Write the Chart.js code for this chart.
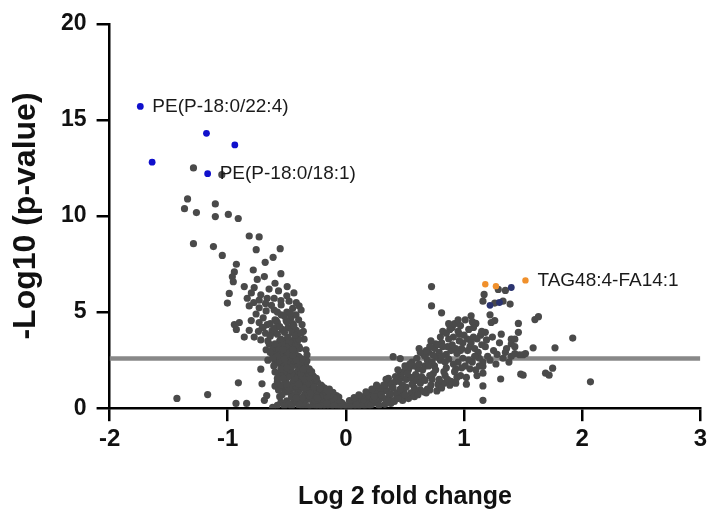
<!DOCTYPE html>
<html>
<head>
<meta charset="utf-8">
<script src="https://cdn.jsdelivr.net/npm/chart.js@4.4.1/dist/chart.umd.min.js"></script>
<style>
  html, body { margin: 0; padding: 0; background: #ffffff; }
  #wrap { width: 711px; height: 518px; }
</style>
</head>
<body>
<div id="wrap"><canvas id="c" width="711" height="518"></canvas></div>
<script>
// ---- Data (log2 fold change, -log10 p-value) ----
const highlightBlue = [[-1.74,15.7],[-1.18,14.3],[-0.94,13.7],[-1.64,12.8],[-1.17,12.2]];
const highlightOrange = [[1.18,6.45],[1.27,6.35],[1.52,6.65]];
const mixedNavy = [[1.40,6.28],[1.22,5.35],[1.30,5.5]];

const leftOutliers = [[-1.29,12.5],[-1.05,12.15],[-1.34,10.89],[-1.366,10.38],[-1.265,10.18],[-1.105,10.63],[-1.105,9.97],[-0.995,10.08],[-0.911,9.87],[-0.818,8.96],[-0.734,8.91],[-1.29,8.56],[-1.121,8.41],[-1.046,7.95],[-0.759,8.25],[-0.556,8.30],[-0.616,7.85],[-0.683,7.59],[-0.927,7.49],[-0.784,7.19],[-0.944,7.09],[-0.961,6.84],[-0.953,6.58],[-0.86,6.33],[-0.776,6.28],[-0.497,6.33],[-0.987,5.97],[-1.003,5.47],[-0.835,5.72],[-0.734,5.62],[-0.666,5.72],[-0.607,5.72],[-0.818,5.32],[-0.734,5.22],[-0.675,5.06],[-0.607,5.11],[-0.548,5.37],[-0.481,5.57],[-0.396,5.32],[-0.379,5.11],[-0.944,4.35],[-0.902,4.46],[-0.927,4.10],[-0.86,3.70],[-0.801,4.56],[-0.818,4.05],[-0.776,3.70],[-0.734,4.46],[-0.708,4.20],[-0.666,4.35],[-0.624,4.05],[-0.590,4.56],[-0.548,4.86],[-0.506,4.56],[-0.464,4.71],[-0.422,4.86],[-0.371,4.35],[-0.455,3.95],[-0.354,3.59],[-0.649,3.34],[-0.675,3.04],[-0.624,2.84],[-0.565,3.09],[-0.506,3.34],[-0.455,3.34],[-0.396,3.19],[-0.337,3.04],[-0.329,2.78],[-1.43,0.51],[-1.17,0.71],[-0.91,1.32],[-0.93,0.25],[-0.84,0.25],[-0.71,1.27],[-0.67,0.66],[-0.69,0.41],[-0.72,2.03]];

const leftCore = [[-0.02,0.05],[-0.05,0.12],[-0.08,0.2],[-0.11,0.3],[-0.14,0.38],[-0.04,0.3],[-0.07,0.42],[-0.17,0.1],[-0.21,0.22],[-0.25,0.15],[-0.28,0.35],[-0.32,0.08],[-0.36,0.25],[-0.4,0.18],[-0.44,0.4],[-0.13,0.05],[-0.19,0.45],[-0.23,0.05],[-0.3,0.48],[-0.1,0.12],[-0.48,0.22],[-0.52,0.12],[-0.38,0.44],[-0.26,0.4],[-0.16,0.25],
[-0.1,0.55],[-0.13,0.7],[-0.16,0.62],[-0.19,0.85],[-0.22,0.6],[-0.25,0.75],[-0.28,0.95],[-0.31,0.65],[-0.34,0.82],[-0.37,0.55],[-0.4,0.9],[-0.43,0.7],[-0.46,0.6],[-0.5,0.85],[-0.54,0.7],[-0.2,0.98],[-0.24,0.52],[-0.33,0.98],[-0.42,0.52],[-0.15,0.9],[-0.3,0.78],[-0.57,0.95],
[-0.18,1.05],[-0.21,1.2],[-0.24,1.35],[-0.27,1.1],[-0.3,1.45],[-0.33,1.25],[-0.36,1.05],[-0.39,1.4],[-0.42,1.15],[-0.45,1.32],[-0.48,1.05],[-0.51,1.45],[-0.55,1.2],[-0.58,1.38],[-0.26,1.48],[-0.35,1.5],[-0.44,1.48],[-0.22,1.02],[-0.4,1.25],[-0.5,1.25],
[-0.25,1.55],[-0.28,1.7],[-0.31,1.6],[-0.34,1.85],[-0.37,1.65],[-0.4,1.95],[-0.43,1.58],[-0.46,1.8],[-0.49,1.62],[-0.52,1.9],[-0.55,1.7],[-0.58,1.55],[-0.6,1.88],[-0.32,1.98],[-0.38,1.8],[-0.47,2.0],[-0.29,1.9],[-0.53,1.55],
[-0.31,2.05],[-0.34,2.2],[-0.37,2.4],[-0.4,2.1],[-0.43,2.3],[-0.46,2.15],[-0.49,2.45],[-0.52,2.25],[-0.55,2.05],[-0.58,2.35],[-0.61,2.2],[-0.36,2.02],[-0.44,2.48],[-0.5,2.1],[-0.56,2.48],[-0.33,2.45],
[-0.37,2.55],[-0.4,2.7],[-0.43,2.9],[-0.46,2.6],[-0.49,2.8],[-0.52,2.55],[-0.55,2.95],[-0.58,2.7],[-0.62,2.6],[-0.64,2.9],[-0.42,2.52],[-0.5,2.98],[-0.45,2.75],
[-0.39,3.1],[-0.42,3.3],[-0.45,3.05],[-0.48,3.45],[-0.51,3.2],[-0.54,3.4],[-0.57,3.15],[-0.6,3.35],[-0.41,3.48],[-0.53,3.05],
[-0.4,3.6],[-0.43,3.8],[-0.46,4.1],[-0.49,3.7],[-0.52,3.95],[-0.55,3.6],[-0.58,3.85],[-0.6,4.15],[-0.64,3.75],[-0.68,3.9],[-0.38,3.9],[-0.72,3.55],
[-0.44,4.3],[-0.5,4.5],[-0.56,4.25],[-0.6,4.6],[-0.64,4.4],[-0.52,4.8],[-0.47,4.95],[-0.7,4.7],[-0.76,4.9]];

const leftCoreExtra = [[-0.01,0.15],[-0.03,0.25],[-0.06,0.05],[-0.09,0.35],[-0.12,0.18],[-0.15,0.48],[-0.18,0.3],[-0.2,0.08],[-0.23,0.38],[-0.27,0.22],[-0.29,0.05],[-0.34,0.4],[-0.37,0.12],[-0.42,0.28],[-0.46,0.1],[-0.5,0.38],[-0.55,0.3],[-0.58,0.15],[-0.62,0.05],[-0.06,0.58],
[-0.08,0.65],[-0.11,0.82],[-0.14,1.0],[-0.17,0.72],[-0.2,1.12],[-0.23,0.88],[-0.26,1.0],[-0.29,0.58],[-0.32,1.1],[-0.35,0.7],[-0.38,1.2],[-0.41,0.8],[-0.44,1.05],[-0.47,0.9],[-0.52,1.0],[-0.56,0.6],[-0.6,1.15],[-0.28,1.3],[-0.37,1.35],[-0.46,1.2],
[-0.27,1.62],[-0.3,1.78],[-0.33,1.68],[-0.36,1.92],[-0.39,1.55],[-0.42,1.85],[-0.45,1.68],[-0.48,1.9],[-0.51,1.72],[-0.54,1.98],[-0.57,1.8],[-0.35,2.3],[-0.38,2.15],[-0.41,2.4],[-0.45,2.25],[-0.48,2.05],[-0.51,2.35],[-0.54,2.15],[-0.57,2.55],[-0.6,2.4],[-0.39,2.62],[-0.47,2.7],[-0.53,2.82],[-0.6,2.95],[-0.66,2.5],
[-0.41,3.2],[-0.44,3.55],[-0.47,3.25],[-0.5,3.6],[-0.56,3.5],[-0.62,3.1],[-0.66,3.5],[-0.45,4.4],[-0.49,4.2],[-0.54,4.1],[-0.58,4.45],[-0.62,3.95],[-0.7,4.2],[-0.74,4.0],[-0.42,4.05],[-0.36,4.0],[-0.4,4.6],
[-0.42,5.5],[-0.45,5.2],[-0.5,5.0],[-0.55,5.6],[-0.58,5.0],[-0.63,5.35],[-0.68,5.45],[-0.72,5.9],[-0.78,5.5],[-0.8,6.0],[-0.65,6.2],[-0.57,6.1],[-0.5,5.85],[-0.44,6.0],[-0.75,6.7],[-0.69,6.85],[-0.55,7.0],[-0.6,6.5]];

const rightCore = [[0.02,0.08],[0.04,0.22],[0.06,0.12],[0.08,0.35],[0.1,0.05],[0.12,0.25],[0.14,0.5],[0.16,0.15],[0.18,0.4],[0.2,0.65],[0.03,0.4],[0.07,0.55],[0.11,0.7],[0.15,0.32],[0.19,0.2],[0.13,0.1],[0.17,0.85],[0.09,0.18],
[0.21,0.15],[0.23,0.45],[0.25,0.8],[0.27,0.3],[0.29,1.05],[0.31,0.55],[0.33,0.2],[0.35,0.9],[0.37,1.3],[0.39,0.4],[0.22,1.0],[0.26,1.2],[0.3,0.7],[0.34,1.5],[0.38,0.75],[0.24,0.6],[0.28,0.15],[0.36,0.35],[0.32,1.2],[0.4,1.05],
[0.41,0.35],[0.43,0.8],[0.45,1.4],[0.47,0.55],[0.49,1.9],[0.51,1.1],[0.53,0.5],[0.55,1.6],[0.57,2.2],[0.59,0.85],[0.42,1.65],[0.44,2.0],[0.48,1.2],[0.5,0.7],[0.52,1.8],[0.54,2.3],[0.56,1.25],[0.58,0.6],[0.46,1.0],[0.6,1.45],[0.5,2.2],[0.44,0.5],
[0.61,0.7],[0.63,1.3],[0.65,2.0],[0.67,2.7],[0.69,1.0],[0.71,1.7],[0.73,2.4],[0.75,3.1],[0.77,0.9],[0.79,1.5],[0.62,2.3],[0.64,1.65],[0.66,0.85],[0.68,3.0],[0.7,2.2],[0.72,1.2],[0.74,2.75],[0.76,2.0],[0.78,3.3],[0.8,2.5],[0.63,2.9],[0.71,3.2],[0.79,1.1],[0.67,1.45],
[0.81,1.05],[0.83,1.9],[0.85,2.8],[0.87,3.6],[0.89,1.4],[0.91,2.3],[0.93,3.1],[0.95,4.0],[0.97,1.7],[0.99,2.6],[0.82,3.2],[0.84,2.4],[0.86,1.5],[0.88,4.1],[0.9,3.3],[0.92,1.9],[0.94,2.85],[0.96,3.5],[0.98,2.1],[1.0,3.8],[0.85,3.9],[0.93,1.3],[0.81,2.7],[0.97,4.3],
[1.02,1.6],[1.04,2.5],[1.06,3.4],[1.08,4.2],[1.1,2.0],[1.12,2.9],[1.14,3.8],[1.16,2.4],[1.18,3.2],[1.2,2.7],[1.03,3.0],[1.07,4.5],[1.11,3.6],[1.15,4.0],[1.19,3.55],[1.05,2.05],[1.09,2.7],[1.13,2.2],[1.01,4.6],
[1.22,2.5],[1.25,3.0],[1.28,2.8],[1.3,3.4],[1.33,2.6],[1.36,3.1],[1.4,2.7],[1.43,3.2],[1.24,3.7],[1.27,2.3],[1.35,2.9],[1.38,2.4]];

const rightCoreExtra = [[0.01,0.02],[0.03,0.12],[0.05,0.3],[0.07,0.08],[0.09,0.45],[0.11,0.15],[0.13,0.38],[0.15,0.6],[0.17,0.28],[0.19,0.52],[0.21,0.75],[0.23,0.25],[0.25,0.4],[0.27,0.95],[0.29,0.6],[0.31,0.9],[0.33,1.1],[0.35,0.5],[0.37,0.7],[0.39,1.15],[0.41,1.35],[0.43,0.55],[0.45,0.75],[0.47,1.6],[0.49,0.9],[0.51,1.5],[0.53,2.0],[0.55,0.8],[0.57,1.35],[0.59,1.75],[0.61,2.05],[0.63,0.95],[0.65,1.55],[0.67,2.2],[0.69,2.5],[0.71,0.95],[0.73,1.5],[0.75,2.2],[0.77,2.65],[0.79,2.9],[0.81,3.4],[0.83,1.3],[0.85,2.1],[0.87,2.55],[0.89,3.0],[0.91,3.7],[0.93,2.05],[0.95,2.4],[0.97,3.0],[0.99,3.4],[1.01,2.2],[1.03,3.6],[1.05,3.2],[1.07,2.4],[1.09,3.1],[1.11,1.7],[1.13,2.6],[1.15,3.3],[0.36,1.55],[0.46,1.85],[0.56,2.4],[0.66,2.8],[0.76,3.35],[0.86,3.2],[0.96,3.85],[0.6,2.6],[0.7,2.9],[0.8,3.7],[0.9,4.2],[0.74,1.8],[0.84,1.7],[0.94,1.6],[1.02,1.25],[0.88,1.2],[0.78,1.25],[0.68,0.8],[0.58,1.05],[0.48,0.4],[0.38,0.25],[0.28,0.45],[0.18,0.05],[0.62,3.1],[0.72,3.5],[0.82,4.0],[0.92,4.4],[1.04,4.1],[0.98,3.1],[1.08,3.7],[0.95,4.6],[0.87,4.4]];

const rightOutliers = [[0.725,6.33],[0.725,5.32],[0.81,4.96],[1.06,4.81],[1.16,5.57],[1.23,4.46],[1.315,3.85],[1.46,4.41],[1.40,3.59],[1.40,3.34],[1.5,2.78],[1.48,1.77],[1.31,1.52],[1.16,2.18],[1.16,1.82],[1.16,1.16],[1.16,0.41],[0.40,2.68],[0.46,2.58],[1.10,4.41],[1.22,4.86],[1.26,4.56],[1.18,3.95],[1.46,3.95],[1.43,3.59],[1.60,4.61],[1.63,4.76],[1.92,3.65],[1.77,3.14],[1.585,3.14],[1.52,2.84],[1.47,2.78],[1.43,2.84],[1.75,2.08],[1.69,1.82],[1.72,1.72],[1.50,1.72],[2.07,1.37],[1.17,5.92],[1.29,6.18],[1.35,6.13],[1.26,5.47],[1.33,5.57],[1.39,5.42]];

const thresholdY = 2.58;
const xTicks = [-2, -1, 0, 1, 2, 3];
const yTicks = [0, 5, 10, 15, 20];

const labelTexts = ['PE(P-18:0/22:4)', 'PE(P-18:0/18:1)', 'TAG48:4-FA14:1'];
const labelPoints = [[-1.74,15.7], [-1.17,12.2], [1.52,6.65]];

// ---- helpers ----
const toXY = arr => arr.map(p => ({x: p[0], y: p[1]}));
const FONT = '"Liberation Sans", Arial, Helvetica, sans-serif';

const labelPlugin = {
  id: 'pointLabels',
  afterDatasetsDraw(chart) {
    const ctx = chart.ctx;
    const xs = chart.scales.x, ys = chart.scales.y;
    ctx.save();
    ctx.font = '19px ' + FONT;
    ctx.fillStyle = '#1a1a1a';
    ctx.textBaseline = 'middle';
    ctx.textAlign = 'left';
    labelTexts.forEach((t, i) => {
      const px = xs.getPixelForValue(labelPoints[i][0]);
      const py = ys.getPixelForValue(labelPoints[i][1]);
      ctx.fillText(t, px + 12, py);
    });
    ctx.restore();
  }
};

const grayStyle = {
  backgroundColor: '#4a4a4a', borderColor: '#4a4a4a', pointRadius: 3.6, pointBorderWidth: 0, showLine: false
};

new Chart(document.getElementById('c'), {
  type: 'scatter',
  data: {
    datasets: [
      { label: 'threshold', type: 'line', data: [{x: -2, y: thresholdY}, {x: 3, y: thresholdY}],
        borderColor: '#888888', borderWidth: 4.5, pointRadius: 0, order: 10 },
      Object.assign({ label: 'leftCore', data: toXY(leftCore), order: 5 }, grayStyle),
      Object.assign({ label: 'leftCoreExtra', data: toXY(leftCoreExtra), order: 5 }, grayStyle),
      Object.assign({ label: 'rightCore', data: toXY(rightCore), order: 5 }, grayStyle),
      Object.assign({ label: 'rightCoreExtra', data: toXY(rightCoreExtra), order: 5 }, grayStyle),
      Object.assign({ label: 'leftOutliers', data: toXY(leftOutliers), order: 5 }, grayStyle),
      Object.assign({ label: 'rightOutliers', data: toXY(rightOutliers), order: 5 }, grayStyle),
      { label: 'navy', data: toXY(mixedNavy), backgroundColor: '#2b3470', borderColor: '#2b3470', pointRadius: 3.4, pointBorderWidth: 0, order: 2 },
      { label: 'orange', data: toXY(highlightOrange), backgroundColor: '#f0902c', borderColor: '#f0902c', pointRadius: 3.2, pointBorderWidth: 0, order: 1 },
      { label: 'blue', data: toXY(highlightBlue), backgroundColor: '#1010cc', borderColor: '#1010cc', pointRadius: 3.4, pointBorderWidth: 0, order: 1 }
    ]
  },
  options: {
    responsive: false,
    animation: false,
    events: [],
    layout: { padding: { left: 10, right: 7, top: 20, bottom: 6 } },
    plugins: { legend: { display: false }, tooltip: { enabled: false } },
    scales: {
      x: {
        type: 'linear', min: -2, max: 3,
        afterBuildTicks: s => { s.ticks = xTicks.map(v => ({value: v})); },
        grid: { drawOnChartArea: false, drawTicks: true, tickLength: 13, color: '#000', lineWidth: 2.5 },
        border: { color: '#000', width: 2.5 },
        ticks: { color: '#111', padding: 4, font: { family: FONT, size: 24, weight: 'bold', lineHeight: 1.2 } },
        title: { display: true, text: 'Log 2 fold change', color: '#111',
                 font: { family: FONT, size: 25, weight: 'bold', lineHeight: 1.2 }, padding: { top: 24, bottom: 0 } }
      },
      y: {
        type: 'linear', min: 0, max: 20,
        afterBuildTicks: s => { s.ticks = yTicks.map(v => ({value: v})); },
        grid: { drawOnChartArea: false, drawTicks: true, tickLength: 13, color: '#000', lineWidth: 2.5 },
        border: { color: '#000', width: 2.5 },
        ticks: { color: '#111', padding: 10, font: { family: FONT, size: 23, weight: 'bold', lineHeight: 1.2 } },
        title: { display: true, text: '-Log10 (p-value)', color: '#111',
                 font: { family: FONT, size: 32, weight: 'bold', lineHeight: 1 }, padding: { top: 0, bottom: 9 } }
      }
    }
  },
  plugins: [labelPlugin]
});
</script>
</body>
</html>
